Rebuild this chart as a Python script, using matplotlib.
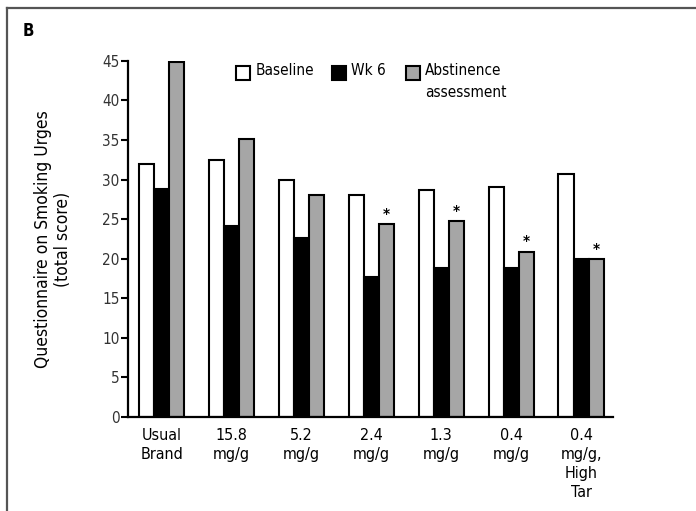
import matplotlib.pyplot as plt
import numpy as np
from matplotlib.lines import Line2D
from matplotlib.patches import Rectangle

plt.rcParams['font.family'] = ['DejaVu Sans']
plt.rcParams['font.stretch'] = 'condensed'

groups = ['Usual\nBrand', '15.8\nmg/g', '5.2\nmg/g', '2.4\nmg/g', '1.3\nmg/g',
          '0.4\nmg/g', '0.4\nmg/g,\nHigh\nTar']
baseline = [31.9, 32.5, 29.9, 28.1, 28.7, 29.0, 30.7]
wk6 = [28.8, 24.1, 22.6, 17.7, 18.8, 18.8, 19.9]
abstinence = [44.8, 35.1, 28.1, 24.4, 24.7, 20.9, 19.9]
starred = [False, False, False, True, True, True, True]
series_labels = ['Baseline', 'Wk 6', 'Abstinence\nassessment']
series_colors = ['white', 'black', '#a6a6a6']

fig = plt.figure(figsize=(6.96, 5.11), dpi=100)
ax = fig.add_axes([0.184, 0.184, 0.697, 0.697])

x = np.arange(len(groups))
w = 0.215
for k, vals in enumerate([baseline, wk6, abstinence]):
    ax.bar(x + (k - 1) * w, vals, w, color=series_colors[k], edgecolor='black',
           linewidth=1.5)

for xi, v, s in zip(x, abstinence, starred):
    if s:
        ax.text(xi + w, v + 1.1, '*', ha='center', va='center', fontsize=11,
                fontweight='bold')

ax.set_xlim(-0.48, 6.46)
ax.set_ylim(0, 45)
ax.set_yticks(np.arange(0, 46, 5))
ax.set_xticks(x)
ax.set_xticklabels(groups, fontsize=11.5, linespacing=1.32, va='top')
ax.tick_params(axis='x', length=0, pad=8)
ax.tick_params(axis='y', length=5, width=1.5, labelsize=11, pad=1, labelcolor='#333333')
for s in ['top', 'right']:
    ax.spines[s].set_visible(False)
for s in ['left', 'bottom']:
    ax.spines[s].set_linewidth(1.6)

ax.set_ylabel('Questionnaire on Smoking Urges\n(total score)', fontsize=12.5,
              labelpad=22, linespacing=1.15)

# legend drawn as squares + text along the top of the plot
leg_x = [0.223, 0.421, 0.573]
for lx, lab, col in zip(leg_x, series_labels, series_colors):
    ax.add_patch(Rectangle((lx, 0.947), 0.029, 0.039, transform=ax.transAxes,
                           facecolor=col, edgecolor='black', lw=1.5, clip_on=False))
    ax.text(lx + 0.039, 0.995, lab, transform=ax.transAxes, ha='left', va='top',
            fontsize=11, linespacing=1.6)

fig.text(0.032, 0.93, 'B', fontsize=12, fontweight='bold')

# panel frame (top and left edges)
fig.add_artist(Line2D([0.010, 1.0], [0.984, 0.984], color='#555555', lw=1.6,
                      transform=fig.transFigure))
fig.add_artist(Line2D([0.010, 0.010], [0.0, 0.984], color='#555555', lw=1.6,
                      transform=fig.transFigure))

fig.savefig('out.png', dpi=100)
